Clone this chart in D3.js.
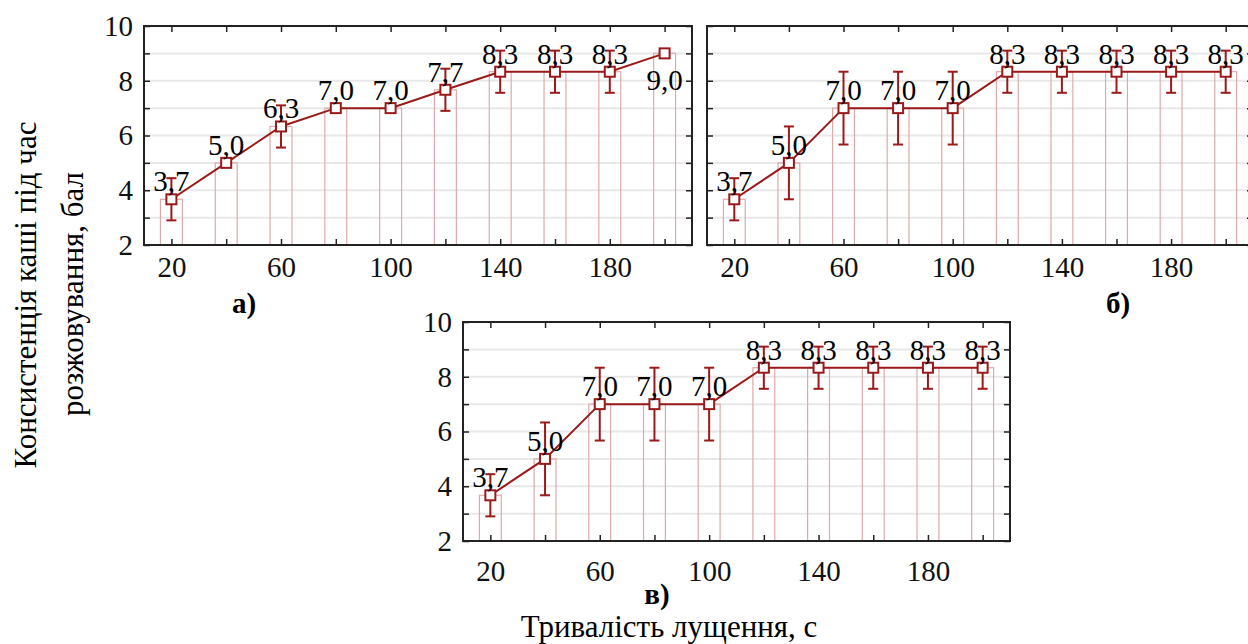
<!DOCTYPE html>
<html>
<head>
<meta charset="utf-8">
<script src="https://cdn.jsdelivr.net/npm/d3@7"></script>
</head>
<body style="margin:0; background:#fff">
<svg id="fig"></svg>
<script>
// data
const durations = [20, 40, 60, 80, 100, 120, 140, 160, 180, 200];
const xTickLabels = [20, 60, 100, 140, 180];
const yTickLabels = [2, 4, 6, 8, 10];
const yMinorTicks = [2, 3, 4, 5, 6, 7, 8, 9, 10];

const meansA  = [3.67, 5.0, 6.33, 7.0, 7.0, 7.67, 8.33, 8.33, 8.33, 9.0];
const errorsA = [0.77, 0, 0.77, 0, 0, 0.77, 0.77, 0.77, 0.77, 0];
const meansB  = [3.67, 5.0, 7.0, 7.0, 7.0, 8.33, 8.33, 8.33, 8.33, 8.33];
const errorsB = [0.77, 1.33, 1.33, 1.33, 1.33, 0.77, 0.77, 0.77, 0.77, 0.77];
const meansC  = [3.67, 5.0, 7.0, 7.0, 7.0, 8.33, 8.33, 8.33, 8.33, 8.33];
const errorsC = [0.77, 1.33, 1.33, 1.33, 1.33, 0.77, 0.77, 0.77, 0.77, 0.77];

const panelLetters = ["а)", "б)", "в)"];
const yTitle = ["Консистенція каші під час", "розжовування, бал"];
const xTitle = "Тривалість лущення, с";

const W = 1248, H = 644;
const red = "#9a1a1a";
const FONT = "'Liberation Serif', 'Times New Roman', serif";
const fmt = v => d3.format(".1f")(v).replace(".", ",");

const svg = d3.select("#fig").attr("width", W).attr("height", H);
svg.append("rect").attr("width", W).attr("height", H).attr("fill", "#fff");

const panels = [
  { x: 144, y: 26, w: 548, h: 219, means: meansA, errors: errorsA, yLabels: true, pad: 11, letter: panelLetters[0], lx: 244, ly: 313 },
  { x: 707, y: 26, w: 546, h: 219, means: meansB, errors: errorsB, yLabels: false, pad: 11, letter: panelLetters[1], lx: 1118, ly: 313 },
  { x: 463, y: 322, w: 547, h: 219, means: meansC, errors: errorsC, yLabels: true, pad: 19, letter: panelLetters[2], lx: 657, ly: 604 }
];

panels.forEach(p => drawPanel(p));

function drawPanel(p) {
  const g = svg.append("g").attr("transform", `translate(${p.x},${p.y})`);
  const x = d3.scaleLinear().domain([10, 210]).range([0, p.w]);
  const y = d3.scaleLinear().domain([2, 10]).range([p.h, 0]);
  const rows = durations.map((d, i) => ({ t: d, v: p.means[i], e: p.errors[i] }));

  // grid
  g.selectAll(".grid").data(d3.range(3, 10)).enter().append("line")
    .attr("x1", 0).attr("x2", p.w)
    .attr("y1", d => y(d)).attr("y2", d => y(d))
    .attr("stroke", "#e8e8e8").attr("stroke-width", 2);

  // bars
  g.selectAll(".bar").data(rows).enter().append("rect")
    .attr("x", d => x(d.t - 4))
    .attr("width", d => x(d.t + 4) - x(d.t - 4))
    .attr("y", d => y(d.v))
    .attr("height", d => y(2) - y(d.v))
    .attr("fill", "none")
    .attr("stroke", "#dfa9a9")
    .attr("stroke-width", 1.2);

  // axes
  const axStyle = a => {
    a.select(".domain").remove();
    a.selectAll(".tick line").attr("stroke", "#222").attr("stroke-width", 1.5);
    a.selectAll("text").attr("fill", "#111").style("font-size", "29px");
  };
  g.append("g").attr("transform", `translate(0,${p.h})`)
    .call(d3.axisBottom(x).tickValues(durations).tickSize(-6).tickPadding(p.pad)
      .tickFormat(d => xTickLabels.includes(d) ? d : ""))
    .call(axStyle);
  g.append("g")
    .call(d3.axisTop(x).tickValues(durations).tickSize(-6).tickFormat(""))
    .call(axStyle);
  g.append("g")
    .call(d3.axisLeft(y).tickValues(yMinorTicks).tickSize(-6).tickPadding(11)
      .tickFormat(d => p.yLabels && yTickLabels.includes(d) ? d : ""))
    .call(axStyle);
  g.append("g").attr("transform", `translate(${p.w},0)`)
    .call(d3.axisRight(y).tickValues(yMinorTicks).tickSize(-6).tickFormat(""))
    .call(axStyle);

  // line
  g.append("path").datum(rows)
    .attr("fill", "none").attr("stroke", red).attr("stroke-width", 2)
    .attr("d", d3.line().x(d => x(d.t)).y(d => y(d.v)));

  // error bars
  const eb = g.selectAll(".err").data(rows.filter(d => d.e > 0)).enter().append("g");
  eb.append("line")
    .attr("x1", d => x(d.t)).attr("x2", d => x(d.t))
    .attr("y1", d => y(d.v + d.e)).attr("y2", d => y(d.v - d.e))
    .attr("stroke", red).attr("stroke-width", 2);
  [1, -1].forEach(s => {
    eb.append("line")
      .attr("x1", d => x(d.t) - 5).attr("x2", d => x(d.t) + 5)
      .attr("y1", d => y(d.v + s * d.e)).attr("y2", d => y(d.v + s * d.e))
      .attr("stroke", red).attr("stroke-width", 2);
  });

  // markers
  g.selectAll(".mk").data(rows).enter().append("rect")
    .attr("x", d => x(d.t) - 5).attr("y", d => y(d.v) - 5)
    .attr("width", 10).attr("height", 10)
    .attr("fill", "#fff").attr("stroke", red).attr("stroke-width", 2);

  // value labels
  g.selectAll(".lbl").data(rows).enter().append("text")
    .attr("x", d => x(d.t))
    .attr("y", d => y(d.v) - 30 < 0 ? y(d.v) + 37 : y(d.v) - 8)
    .attr("text-anchor", "middle")
    .style("font-size", "29px")
    .attr("fill", "#000")
    .text(d => fmt(d.v));

  // frame
  g.append("rect").attr("width", p.w).attr("height", p.h)
    .attr("fill", "none").attr("stroke", "#222").attr("stroke-width", 2);

  svg.append("text")
    .attr("x", p.lx).attr("y", p.ly)
    .attr("text-anchor", "middle")
    .style("font-size", "29px").style("font-weight", "bold")
    .text(p.letter);
}

// axis titles
svg.append("text")
  .attr("transform", "translate(36,295) rotate(-90)")
  .attr("text-anchor", "middle").style("font-size", "31px")
  .text(yTitle[0]);
svg.append("text")
  .attr("transform", "translate(83,294) rotate(-90)")
  .attr("text-anchor", "middle").style("font-size", "31px")
  .text(yTitle[1]);
svg.append("text")
  .attr("x", 669).attr("y", 637)
  .attr("text-anchor", "middle").style("font-size", "31px")
  .text(xTitle);

// every text in the serif face (inline style so nothing overrides it)
svg.selectAll("text").style("font-family", FONT);
</script>
</body>
</html>
